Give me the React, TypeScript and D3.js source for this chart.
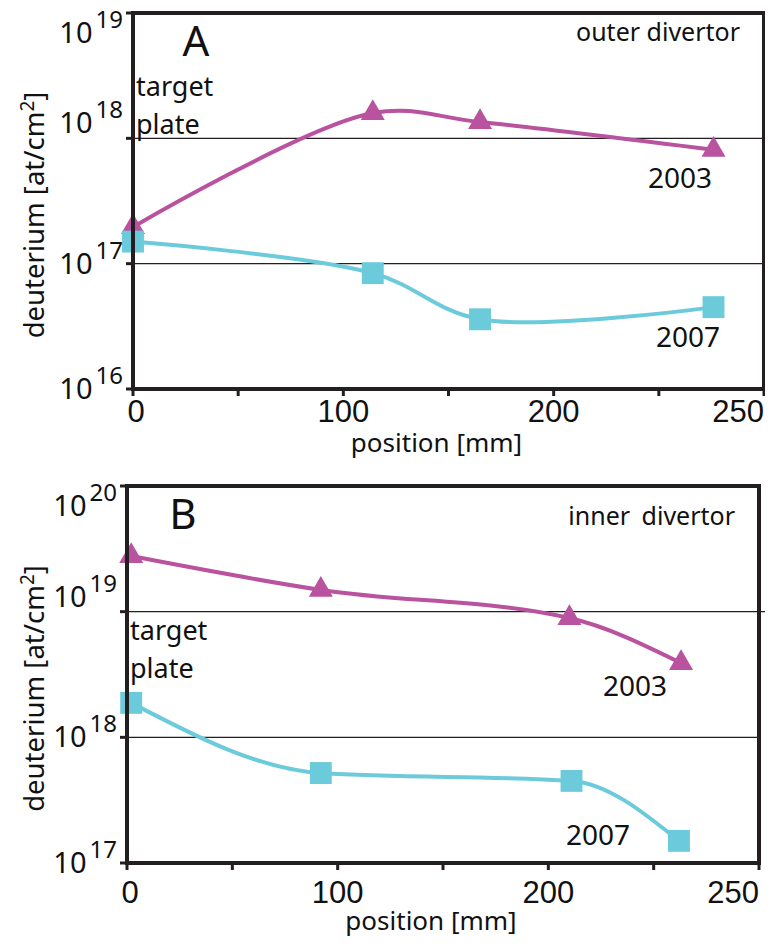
import { useEffect, useRef } from 'react';
import * as d3 from 'd3';

// values (position in mm, deuterium in at/cm2)
const positionsA2003 = [0, 114, 165, 276];
const valuesA2003 = [1.96e17, 1.59e18, 1.35e18, 8.1e17];
const positionsA2007 = [0, 114, 165, 276];
const valuesA2007 = [1.5e17, 8.4e16, 3.6e16, 4.5e16];

const positionsB2003 = [2, 92, 210, 263];
const valuesB2003 = [2.77e19, 1.49e19, 8.9e18, 3.9e18];
const positionsB2007 = [2, 92, 211, 262];
const valuesB2007 = [1.88e18, 5.2e17, 4.5e17, 1.5e17];

// the original axis is labelled 0,100,200,250 on evenly spaced ticks
const xTickValues = [0, 50, 100, 150, 200, 250, 300];
const xTickLabels = ['0', '', '100', '', '200', '', '250'];

const MAGENTA = '#b9529f';
const CYAN = '#6ccbdb';
const INK = '#231f20';
const SANS = "'Noto Sans', 'Open Sans', sans-serif";
const NARROW = "'Liberation Sans Narrow', 'Liberation Sans', sans-serif";

function drawPanel(svg, cfg) {
    const { left, right, top, bottom, expMin, expMax } = cfg;

    const x = d3.scaleLinear().domain([0, 300]).range([left, right]);
    const y = d3.scaleLog().domain([10 ** expMin, 10 ** expMax]).range([bottom, top]);

    const g = svg.append('g');
    const decades = d3.range(expMin, expMax + 1);

    // horizontal grid lines at the inner decades
    g.selectAll('line.grid')
        .data(decades.slice(1, -1))
        .join('line')
        .attr('x1', left)
        .attr('x2', (d, i) => (i === decades.length - 3 ? right + 8 : right))
        .attr('y1', d => y(10 ** d))
        .attr('y2', d => y(10 ** d))
        .attr('stroke', INK)
        .attr('stroke-width', 1.2);

    // curves
    const line = d3.line().x(d => x(d[0])).y(d => y(d[1])).curve(cfg.curve);
    const series = [
        { pos: cfg.pos2003, val: cfg.val2003, color: MAGENTA, symbol: d3.symbolTriangle, size: 250 },
        { pos: cfg.pos2007, val: cfg.val2007, color: CYAN, symbol: d3.symbolSquare, size: 480 },
    ];
    series.forEach(s => {
        const pts = s.pos.map((p, i) => [p, s.val[i]]);
        g.append('path')
            .attr('d', line(pts))
            .attr('fill', 'none')
            .attr('stroke', s.color)
            .attr('stroke-width', 4);
        g.selectAll(null)
            .data(pts)
            .join('path')
            .attr('transform', d => `translate(${x(d[0])},${y(d[1])})`)
            .attr('d', d3.symbol().type(s.symbol).size(s.size))
            .attr('fill', s.color);
    });

    // frame
    g.append('path')
        .attr('d', `M${left},${bottom}V${top}H${right}V${bottom}Z`)
        .attr('fill', 'none')
        .attr('stroke', INK)
        .attr('stroke-width', 4);

    // y ticks + labels
    g.selectAll('line.yt')
        .data(decades)
        .join('line')
        .attr('x1', left - 7)
        .attr('x2', left)
        .attr('y1', d => y(10 ** d))
        .attr('y2', d => y(10 ** d))
        .attr('stroke', INK)
        .attr('stroke-width', 3);

    const labelShift = [10, 10, -5, 30];
    const yl = g.selectAll('text.yl')
        .data(decades)
        .join('text')
        .attr('x', left - 10)
        .attr('y', (d, i) => y(10 ** d) + labelShift[i])
        .attr('text-anchor', 'end')
        .attr('font-family', SANS)
        .attr('font-size', 29)
        .attr('fill', '#111');
    yl.append('tspan').text('10');
    yl.append('tspan')
        .attr('dx', 3)
        .attr('dy', -15)
        .attr('font-size', 24)
        .text(d => d);

    // x ticks + labels
    g.selectAll('line.xt')
        .data(xTickValues)
        .join('line')
        .attr('x1', d => x(d))
        .attr('x2', d => x(d))
        .attr('y1', bottom)
        .attr('y2', bottom + 7)
        .attr('stroke', INK)
        .attr('stroke-width', 3);

    g.selectAll('text.xl')
        .data(xTickValues)
        .join('text')
        .attr('x', d => x(d) + (d === 0 ? 3 : 0))
        .attr('y', bottom + cfg.xLabelGap)
        .attr('text-anchor', (d, i) => (i === xTickValues.length - 1 ? 'end' : 'middle'))
        .attr('font-family', NARROW)
        .attr('font-size', 31)
        .attr('fill', '#111')
        .text((d, i) => xTickLabels[i]);

    g.append('text')
        .attr('x', (left + right) / 2 - 12)
        .attr('y', cfg.xTitleY)
        .attr('text-anchor', 'middle')
        .attr('font-family', SANS)
        .attr('font-size', 26)
        .attr('fill', '#111')
        .text('position [mm]');

    const yt = g.append('text')
        .attr('transform', `translate(44,${(top + bottom) / 2 + 14}) rotate(-90)`)
        .attr('text-anchor', 'middle')
        .attr('font-family', SANS)
        .attr('font-size', 27.5)
        .attr('fill', '#111');
    yt.append('tspan').text('deuterium [at/cm');
    yt.append('tspan').attr('dy', -10).attr('font-size', 19).text('2');
    yt.append('tspan').attr('dy', 10).text(']');

    // panel letter, region, target plate
    g.append('text')
        .attr('x', cfg.letterX)
        .attr('y', top + 43)
        .attr('text-anchor', 'middle')
        .attr('font-family', SANS)
        .attr('font-size', 42)
        .attr('fill', '#111')
        .text(cfg.letter);

    g.append('text')
        .attr('x', right - 24)
        .attr('y', top + cfg.regionDy)
        .attr('text-anchor', 'end')
        .attr('font-family', SANS)
        .attr('font-size', 25)
        .attr('word-spacing', cfg.regionSpacing)
        .attr('fill', '#111')
        .text(cfg.region);

    const tp = g.append('text')
        .attr('font-family', SANS)
        .attr('font-size', 27)
        .attr('fill', '#111');
    tp.append('tspan').attr('x', left + 3).attr('y', cfg.targetY).text('target');
    tp.append('tspan').attr('x', left + 3).attr('y', cfg.targetY + 38).text('plate');

    // year labels
    cfg.years.forEach(yr => {
        g.append('text')
            .attr('x', yr.x)
            .attr('y', yr.y)
            .attr('text-anchor', 'middle')
            .attr('font-family', SANS)
            .attr('font-size', 28)
            .attr('fill', '#111')
            .text(yr.text);
    });
}

function App() {
    const ref = useRef(null);

    useEffect(() => {
        const svg = d3.select(ref.current);
        svg.selectAll('*').remove();

        drawPanel(svg, {
            left: 133, right: 764, top: 13, bottom: 389, expMin: 16, expMax: 19,
            pos2003: positionsA2003, val2003: valuesA2003,
            pos2007: positionsA2007, val2007: valuesA2007,
            curve: d3.curveCatmullRom.alpha(0.5),
            letter: 'A', letterX: 196, region: 'outer divertor', regionDy: 28, regionSpacing: 0,
            targetY: 96, xLabelGap: 33, xTitleY: 452,
            years: [
                { text: '2003', x: 680, y: 188 },
                { text: '2007', x: 688, y: 347 },
            ],
        });

        drawPanel(svg, {
            left: 127, right: 759, top: 486, bottom: 863, expMin: 17, expMax: 20,
            pos2003: positionsB2003, val2003: valuesB2003,
            pos2007: positionsB2007, val2007: valuesB2007,
            curve: d3.curveMonotoneX,
            letter: 'B', letterX: 183, region: 'inner divertor', regionDy: 39, regionSpacing: 5,
            targetY: 640, xLabelGap: 40, xTitleY: 930,
            years: [
                { text: '2003', x: 635, y: 696 },
                { text: '2007', x: 598, y: 845 },
            ],
        });
    }, []);

    return (
        <div style={{ margin: -8 }}>
            <svg ref={ref} width={773} height={947} style={{ display: 'block', background: '#fff' }}></svg>
        </div>
    );
}

export default App;
